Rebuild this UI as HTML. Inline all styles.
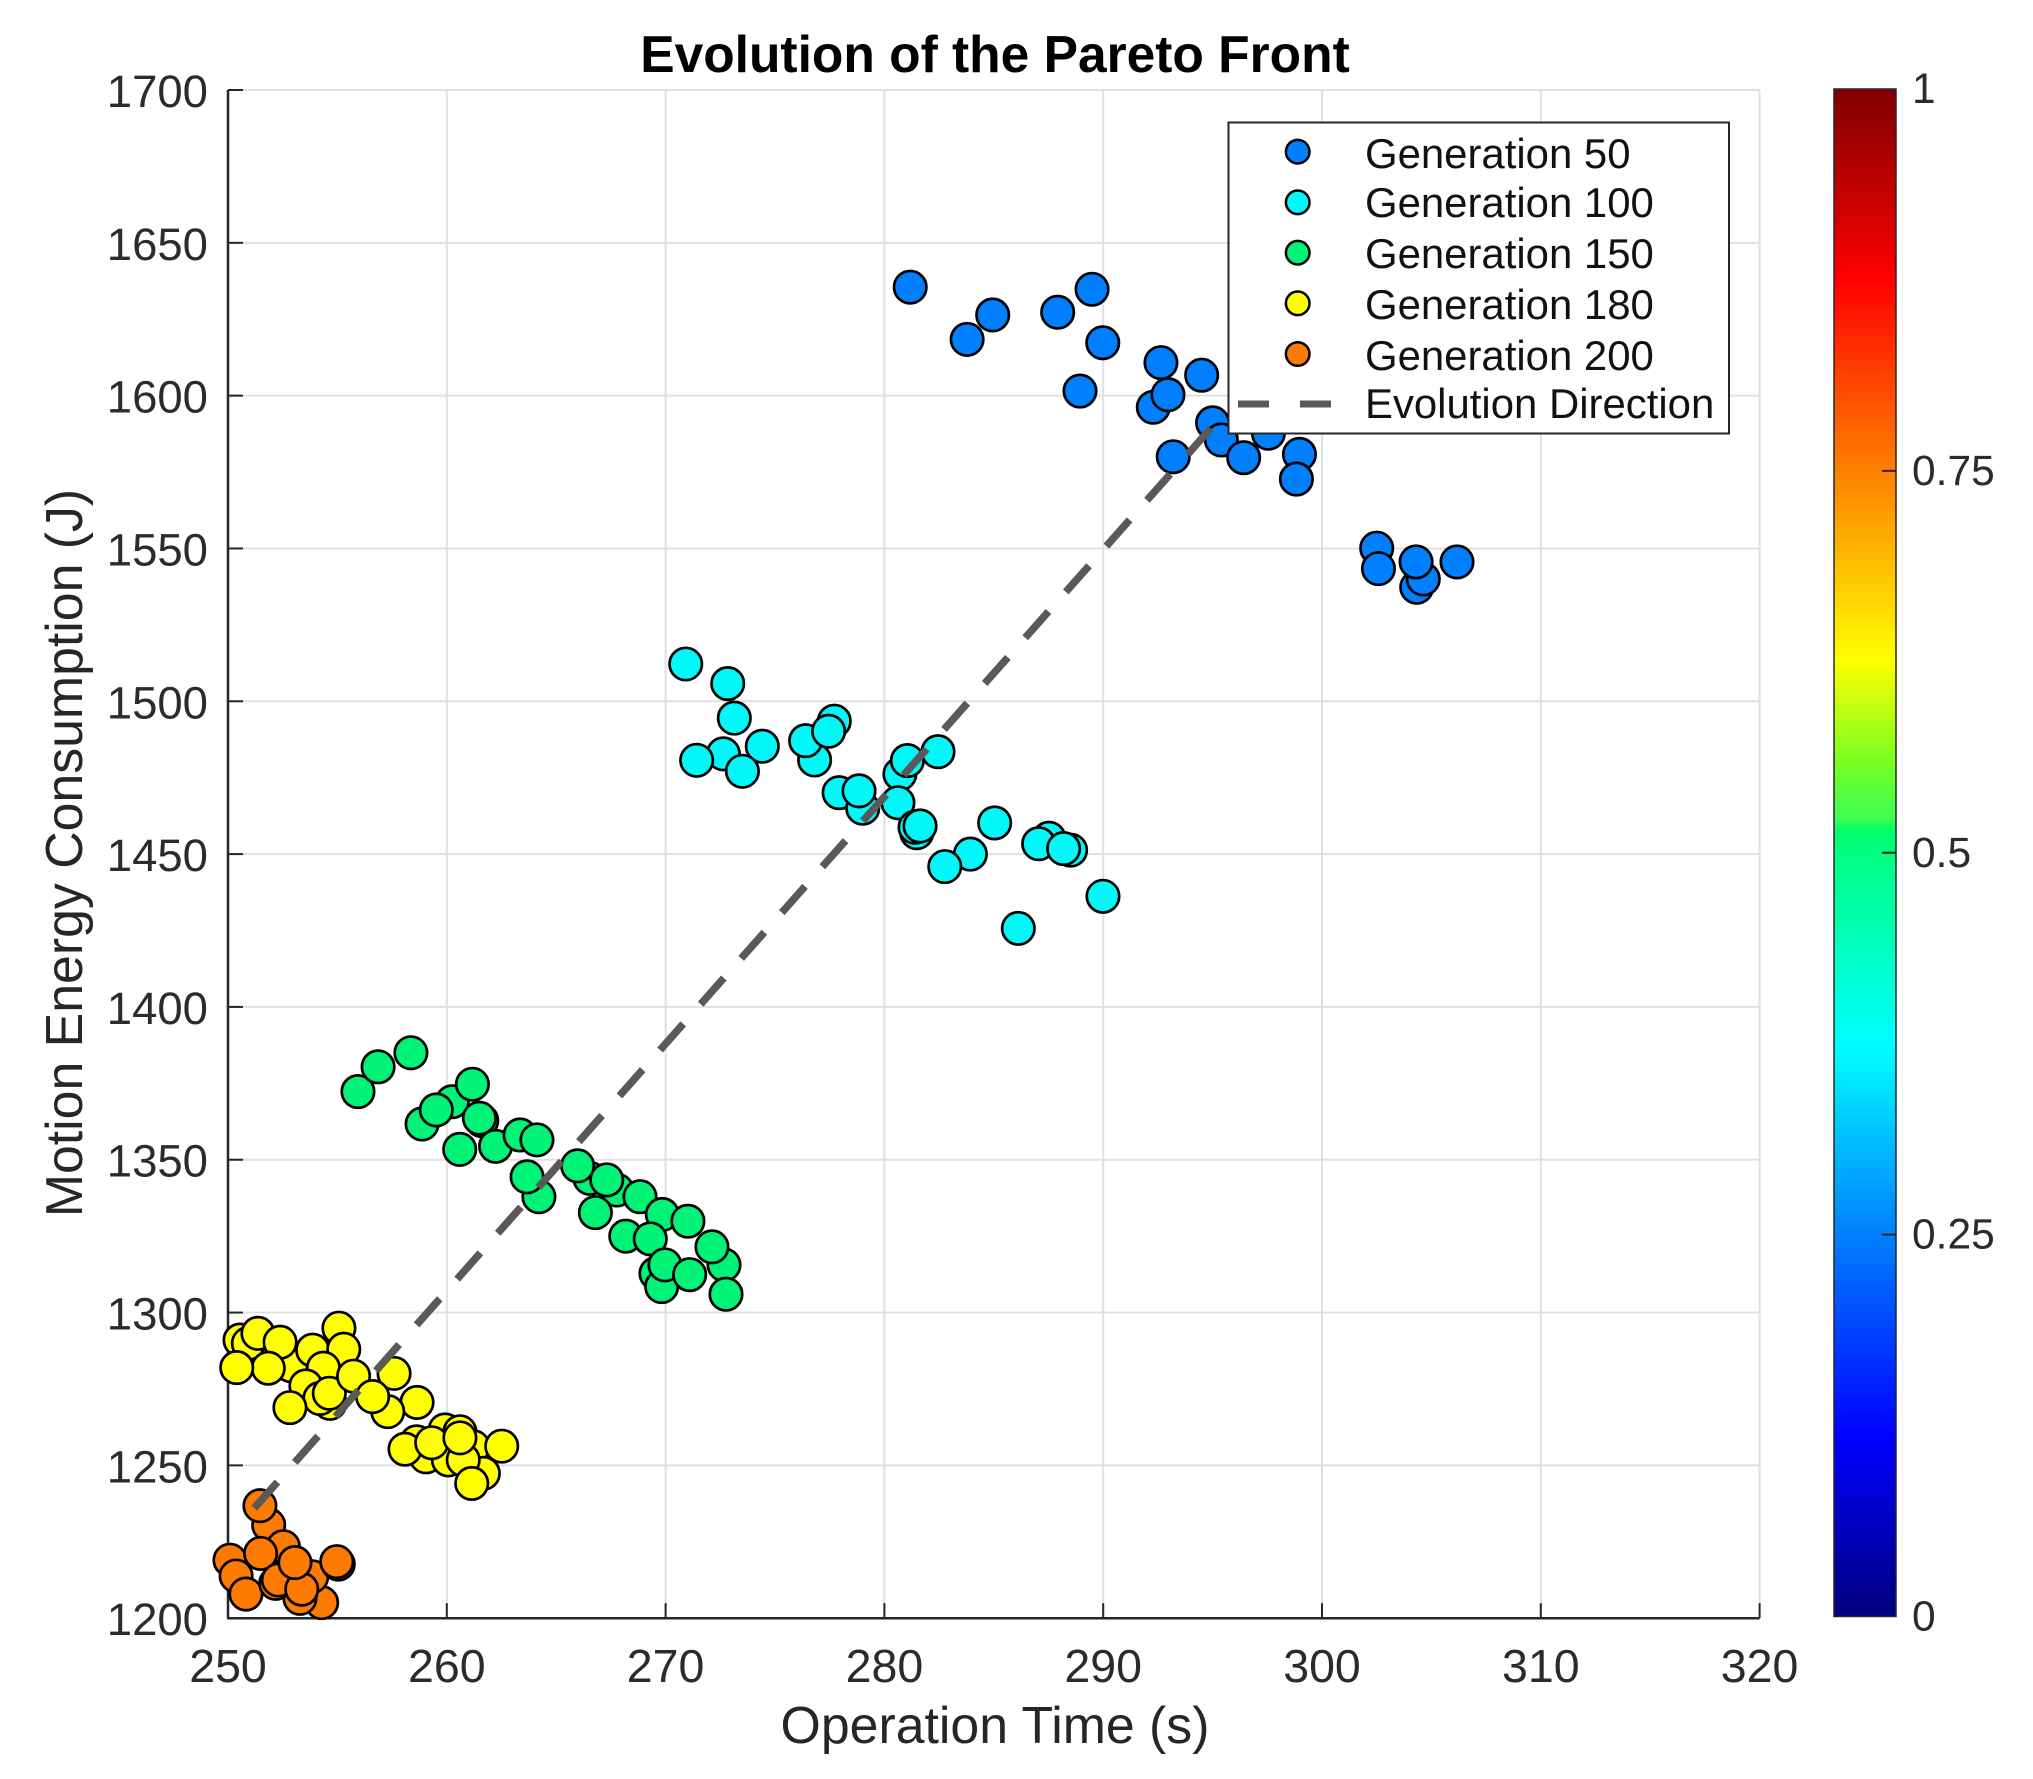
<!DOCTYPE html>
<html lang="en">
<head>
<meta charset="utf-8">
<title>Evolution of the Pareto Front</title>
<style>
  html, body { margin: 0; padding: 0; background: #fff; }
  #chart { display: block; font-family: "Liberation Sans", Arial, sans-serif; }
</style>
</head>
<body>
<svg id="chart" xmlns="http://www.w3.org/2000/svg" width="2033" height="1779" viewBox="0 0 2033 1779">
  <defs>
    <linearGradient id="cbGradient" x1="0" y1="1" x2="0" y2="0"></linearGradient>
  </defs>
  <rect x="0" y="0" width="2033" height="1779" fill="#ffffff"/>
  <g id="grid"></g>
  <g id="axes"></g>
  <g id="series"></g>
  <g id="direction"></g>

  <text x="995" y="72" text-anchor="middle" font-size="51.5" font-weight="bold" fill="#000">Evolution of the Pareto Front</text>
  <text x="995" y="1743" text-anchor="middle" font-size="51.8" fill="#262626">Operation Time (s)</text>
  <text transform="translate(82 853) rotate(-90)" text-anchor="middle" font-size="51.8" fill="#262626">Motion Energy Consumption (J)</text>

  <g>
    <rect x="1228.5" y="122.5" width="500.5" height="311" fill="#ffffff" stroke="#262626" stroke-width="2"/>
    <circle cx="1297.7" cy="151.7" r="11.8" fill="#0080ff" stroke="#000" stroke-width="2.5"/>
    <circle cx="1297.7" cy="202.3" r="11.8" fill="#00f8f8" stroke="#000" stroke-width="2.5"/>
    <circle cx="1297.7" cy="252.7" r="11.8" fill="#00f276" stroke="#000" stroke-width="2.5"/>
    <circle cx="1297.7" cy="303.3" r="11.8" fill="#ffff00" stroke="#000" stroke-width="2.5"/>
    <circle cx="1297.7" cy="354" r="11.8" fill="#ff7a00" stroke="#000" stroke-width="2.5"/>
    <line x1="1238" y1="404" x2="1331" y2="404" stroke="#595959" stroke-width="7" stroke-dasharray="31 31"/>
    <text x="1365" y="168" font-size="41.9" fill="#111">Generation 50</text>
    <text x="1365" y="217" font-size="41.9" fill="#111">Generation 100</text>
    <text x="1365" y="268" font-size="41.9" fill="#111">Generation 150</text>
    <text x="1365" y="319" font-size="41.9" fill="#111">Generation 180</text>
    <text x="1365" y="370" font-size="41.9" fill="#111">Generation 200</text>
    <text x="1365" y="418" font-size="41.9" fill="#111">Evolution Direction</text>
  </g>

  <g id="colorbar"></g>
</svg>

<script>
// ---------- chart data ----------
const xTicks = [250, 260, 270, 280, 290, 300, 310, 320];
const yTicks = [1200, 1250, 1300, 1350, 1400, 1450, 1500, 1550, 1600, 1650, 1700];
const colorbarTicks = [0, 0.25, 0.5, 0.75, 1];
const colorbarTickLabels = ['0', '0.25', '0.5', '0.75', '1'];

const gen50X = [281.18, 283.78, 284.95, 289.49, 287.92, 289.98, 288.94, 292.64, 294.5, 292.29, 292.96, 295.0, 297.55, 295.4, 293.2, 296.42, 298.97, 298.83, 302.5, 302.58, 304.33, 304.63, 304.3, 306.17];
const gen50Y = [1635.5, 1618.4, 1626.4, 1634.8, 1627.3, 1617.3, 1601.5, 1610.8, 1606.7, 1596.2, 1600.3, 1591.1, 1587.7, 1585.5, 1580, 1579.7, 1580.8, 1572.7, 1550.1, 1543.4, 1537.3, 1540, 1545.6, 1545.6];

const gen100X = [270.92, 272.84, 273.14, 272.64, 271.42, 274.42, 273.51, 277.71, 276.81, 276.4, 277.45, 277.93, 279.01, 278.84, 280.71, 281.05, 282.45, 280.62, 281.48, 281.4, 281.63, 285.04, 283.93, 282.76, 287.52, 287.05, 288.51, 288.19, 289.99, 286.12];
const gen100Y = [1512.2, 1505.8, 1494.5, 1482.8, 1480.7, 1485.3, 1477.1, 1493.5, 1480.8, 1487.1, 1490.2, 1470.1, 1465, 1470.7, 1476.2, 1480.6, 1483.5, 1466.8, 1457, 1458.8, 1459.2, 1460.2, 1450, 1445.9, 1455.2, 1453.4, 1451.3, 1451.8, 1436.2, 1425.7];

const gen150X = [255.94, 256.86, 258.36, 260.25, 258.87, 259.52, 261.17, 261.6, 261.49, 260.59, 262.23, 263.35, 264.12, 264.21, 263.67, 266.54, 265.98, 267.77, 267.31, 268.83, 266.79, 269.85, 271.02, 268.18, 269.3, 272.67, 272.12, 269.56, 269.82, 269.97, 271.1, 272.76];
const gen150Y = [1372.3, 1380.4, 1385, 1369, 1361.7, 1366.3, 1374.7, 1362.8, 1363.6, 1353.4, 1354.4, 1358.1, 1356.5, 1337.9, 1344.4, 1343.9, 1348, 1340.1, 1343.4, 1337.9, 1332.7, 1332.1, 1329.9, 1325, 1324.1, 1315.6, 1321.5, 1312.8, 1308.5, 1315.6, 1312.4, 1306];

const gen180X = [250.55, 250.93, 251.37, 252.88, 252.38, 251.84, 250.4, 253.87, 255.07, 255.29, 254.36, 253.56, 254.66, 254.2, 252.83, 254.63, 255.74, 257.59, 258.64, 257.3, 256.61, 259.92, 260.6, 258.62, 259.05, 261.21, 261.67, 260.07, 258.09, 260.75, 259.31, 261.14, 260.6, 262.51];
const gen180Y = [1291, 1289.9, 1293.2, 1282.6, 1290.3, 1281.8, 1282, 1287.7, 1294.9, 1288, 1281.8, 1276, 1270.3, 1271.9, 1268.9, 1273.6, 1279.2, 1280.1, 1270.6, 1267.6, 1272.5, 1261.6, 1261, 1257.7, 1252.8, 1256.1, 1247.4, 1251.8, 1255.3, 1251.8, 1257.4, 1244.1, 1259, 1256.3];

const gen200X = [251.86, 251.46, 252.53, 250.09, 250.37, 250.82, 251.49, 254.28, 253.29, 253.83, 252.18, 252.3, 253.37, 253.06, 255.04, 254.97];
const gen200Y = [1230.5, 1236.8, 1223.4, 1219, 1213.8, 1207.9, 1221.2, 1205.1, 1206.5, 1213.6, 1211.4, 1212.5, 1209.5, 1218.2, 1217.7, 1218.5];

const evolutionX = [251.2, 295];
const evolutionY = [1236, 1590];

const colorbarStopValues = [0, 0.117, 0.25, 0.375, 0.5, 0.515, 0.522, 0.56, 0.625, 0.75, 0.875, 1];
const colorbarStopColors = ['#00007f', '#0000ff', '#0080ff', '#00ffff', '#00ff80', '#00ff66', '#3cff55', '#7aff20', '#ffff00', '#ff8000', '#ff0000', '#800000'];

// ---------- axis functions ----------
const SVG_NS = 'http://www.w3.org/2000/svg';
function xScale(v) { return 228 + (v - 250) * 21.88; }
function yScale(v) { return 1618.2 - (v - 1200) * 3.0564; }
function cbScale(v) { return 1616.5 - v * 1527.5; }
function svgEl(tag) { return document.createElementNS(SVG_NS, tag); }
function setLine(el, x1, y1, x2, y2, stroke, width) {
  el.setAttribute('x1', x1);
  el.setAttribute('y1', y1);
  el.setAttribute('x2', x2);
  el.setAttribute('y2', y2);
  el.setAttribute('stroke', stroke);
  el.setAttribute('stroke-width', width);
}
function setText(el, x, y, anchor, size, content) {
  el.setAttribute('x', x);
  el.setAttribute('y', y);
  el.setAttribute('text-anchor', anchor);
  el.setAttribute('font-size', size);
  el.setAttribute('fill', '#2b2b2b');
  el.textContent = content;
}

const gridGroup = document.getElementById('grid');
const axesGroup = document.getElementById('axes');
const seriesGroup = document.getElementById('series');
const directionGroup = document.getElementById('direction');
const colorbarGroup = document.getElementById('colorbar');

// ---------- grid, ticks and tick labels ----------
xTicks.forEach(function (t) {
  const px = xScale(t);
  const g = svgEl('line');
  
  
  setLine(g, px, yScale(1700), px, yScale(1200), '#e0e0e0', 2);
  gridGroup.appendChild(g);

  const tick = svgEl('line');
  
  
  setLine(tick, px, yScale(1200), px, yScale(1200) - 15, '#262626', 2);
  axesGroup.appendChild(tick);

  const label = svgEl('text');
  
  
  setText(label, px, 1682, 'middle', 46.5, String(t));
  axesGroup.appendChild(label);
});

yTicks.forEach(function (t) {
  const py = yScale(t);
  const g = svgEl('line');
  
  
  setLine(g, xScale(250), py, xScale(320), py, '#e0e0e0', 2);
  gridGroup.appendChild(g);

  const tick = svgEl('line');
  
  
  setLine(tick, xScale(250), py, xScale(250) + 15, py, '#262626', 2);
  axesGroup.appendChild(tick);

  const label = svgEl('text');
  
  
  setText(label, 208, py + 17, 'end', 45.5, String(t));
  axesGroup.appendChild(label);
});

const xAxisLine = svgEl('line');


setLine(xAxisLine, xScale(250) - 1, yScale(1200), xScale(320), yScale(1200), '#262626', 2.5);
axesGroup.appendChild(xAxisLine);

const yAxisLine = svgEl('line');


setLine(yAxisLine, xScale(250), yScale(1700), xScale(250), yScale(1200), '#262626', 2.5);
axesGroup.appendChild(yAxisLine);

// ---------- scatter series ----------
function drawSeries(name, xs, ys, color) {
  const group = svgEl('g');
  
  
  xs.forEach(function (x, i) {
    const c = svgEl('circle');
    
    
    c.setAttribute('cx', xScale(x));
    c.setAttribute('cy', yScale(ys[i]));
    c.setAttribute('r', 16.2);
    c.setAttribute('fill', color);
    c.setAttribute('stroke', '#000');
    c.setAttribute('stroke-width', 2.7);
    group.appendChild(c);
  });
  seriesGroup.appendChild(group);
}
drawSeries('series-generation-50', gen50X, gen50Y, '#0080ff');
drawSeries('series-generation-100', gen100X, gen100Y, '#00f8f8');
drawSeries('series-generation-150', gen150X, gen150Y, '#00f276');
drawSeries('series-generation-180', gen180X, gen180Y, '#ffff00');
drawSeries('series-generation-200', gen200X, gen200Y, '#ff7a00');

// ---------- evolution direction ----------
const directionLine = svgEl('line');


setLine(directionLine, xScale(evolutionX[0]), yScale(evolutionY[0]), xScale(evolutionX[1]), yScale(evolutionY[1]), '#595959', 7.5);
directionLine.setAttribute('stroke-dasharray', '35 26.2');
directionGroup.appendChild(directionLine);

// ---------- colorbar ----------
const gradient = document.getElementById('cbGradient');
colorbarStopValues.forEach(function (v, i) {
  const s = svgEl('stop');
  s.setAttribute('offset', v);
  s.setAttribute('stop-color', colorbarStopColors[i]);
  gradient.appendChild(s);
});

const cbRect = svgEl('rect');


cbRect.setAttribute('x', 1834);
cbRect.setAttribute('y', cbScale(1));
cbRect.setAttribute('width', 62);
cbRect.setAttribute('height', cbScale(0) - cbScale(1));
cbRect.setAttribute('fill', 'url(#cbGradient)');
cbRect.setAttribute('stroke', '#262626');
cbRect.setAttribute('stroke-width', 1.5);
colorbarGroup.appendChild(cbRect);

colorbarTicks.forEach(function (t, i) {
  const py = cbScale(t);
  if (t > 0 && t < 1) {
    const tick = svgEl('line');
    
    
    setLine(tick, 1896, py, 1882, py, '#262626', 2);
    colorbarGroup.appendChild(tick);
  }
  const label = svgEl('text');
  
  
  setText(label, 1912, py + 14, 'start', 42.5, colorbarTickLabels[i]);
  colorbarGroup.appendChild(label);
});
</script>
</body>
</html>
